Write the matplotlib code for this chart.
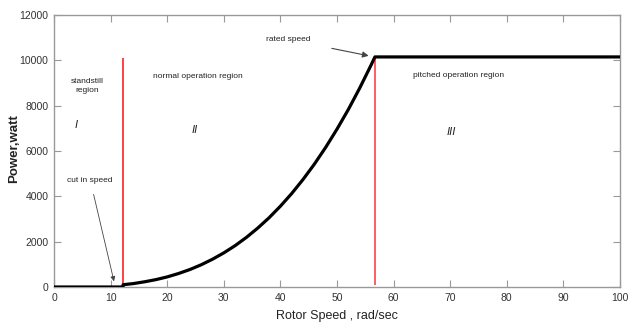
import matplotlib
matplotlib.use("Agg")
import matplotlib.pyplot as plt

# Data
rotor_speed = [0, 12.2, 12.2, 14, 16, 18, 20, 22, 24, 26, 28, 30, 32, 34, 36, 38,
               40, 42, 44, 46, 48, 50, 52, 54, 56, 56.7, 100]
power = [0, 0, 100, 150, 230, 325, 445, 595, 770, 980, 1225, 1505, 1825, 2190,
         2600, 3055, 3565, 4125, 4745, 5420, 6160, 6965, 7830, 8770, 9780, 10150, 10150]
cut_in_speed = 12.2
rated_speed = 56.7
rated_power = 10150
xticks = [0, 10, 20, 30, 40, 50, 60, 70, 80, 90, 100]
yticks = [0, 2000, 4000, 6000, 8000, 10000, 12000]

plt.rcParams['font.family'] = ['Liberation Sans', 'DejaVu Sans']

fig = plt.figure(figsize=(6.36, 3.33), dpi=100)
ax = fig.add_axes([54/636, 1-287/333, 566/636, 272/333])

ax.plot(rotor_speed, power, color='black', lw=2.3, solid_capstyle='butt', zorder=3)
ax.vlines(cut_in_speed, 150, 10100, color='#ff3333', lw=1.3, zorder=2)
ax.vlines(rated_speed, 100, rated_power, color='#ff3333', lw=1.1, zorder=2)

ax.set_xlim(0, 100)
ax.set_ylim(0, 12000)
ax.set_xticks(xticks)
ax.set_yticks(yticks)
ax.tick_params(direction='in', top=True, right=True, length=5, width=0.8,
               color='#999999', labelsize=7.5, labelcolor='#333333', pad=4)
for s in ax.spines.values():
    s.set_color('#999999')
    s.set_linewidth(1.0)

ax.set_xlabel('Rotor Speed , rad/sec', fontsize=9, color='#222222', labelpad=5)
ax.set_ylabel('Power,watt', fontsize=9.5, fontweight='bold', color='#222222')
ax.yaxis.set_label_coords(-0.06, 0.51)

tk = dict(fontsize=6, color='#222222', ha='center', va='center')
ax.text(5.8, 8870, 'standstill\nregion', linespacing=1.3, **tk)
ax.text(25.4, 9270, 'normal operation region', **tk)
ax.text(71.4, 9350, 'pitched operation region', **tk)
ax.text(3.9, 7150, 'I', fontsize=8, style='italic', ha='center', va='center', color='#222222')
ax.text(24.9, 6930, 'II', fontsize=8, style='italic', ha='center', va='center', color='#222222')
ax.text(70.1, 6840, 'III', fontsize=8, style='italic', ha='center', va='center', color='#222222')

ax.annotate('cut in speed', xy=(10.6, 250), xytext=(6.4, 4720),
            fontsize=6, color='#222222', ha='center', va='center',
            arrowprops=dict(arrowstyle='-|>', color='#444444', lw=0.6,
                            shrinkA=6, shrinkB=0, mutation_scale=7))
ax.annotate('rated speed', xy=(55.6, 10200), xytext=(41.3, 10920),
            fontsize=6, color='#222222', ha='center', va='center',
            arrowprops=dict(arrowstyle='-|>', color='#444444', lw=0.8,
                            shrinkA=14, shrinkB=0, mutation_scale=9))

fig.savefig('out.png', dpi=100)
